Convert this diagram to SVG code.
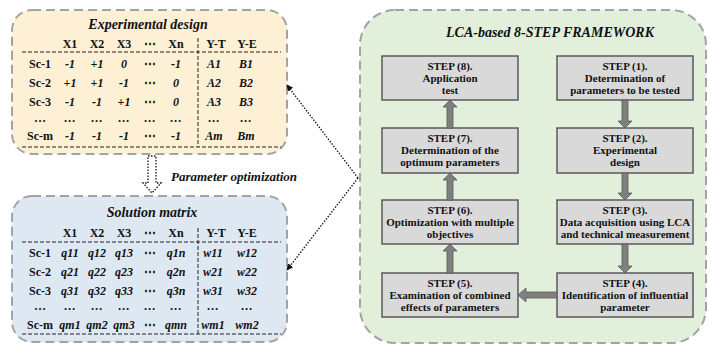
<svg xmlns="http://www.w3.org/2000/svg" width="708" height="346" viewBox="0 0 708 346">
<defs>
<style>
text{font-family:'Liberation Serif','DejaVu Serif',serif;font-weight:bold;fill:#111;}
.t{font-size:14px;font-style:italic;text-anchor:middle;}
.h{font-size:12px;text-anchor:middle;}
.v{font-size:12px;font-style:italic;text-anchor:middle;}
.s{font-size:11px;text-anchor:middle;}
.po{font-size:13px;font-style:italic;}
.panel{stroke:#a3a3a3;stroke-width:2;stroke-dasharray:9 5;}
.fine{stroke:#222;stroke-width:1;stroke-dasharray:4 2;fill:none;}
.box{fill:#d9d9d9;stroke:#595959;stroke-width:1.5;}
.blk{fill:#7f7f7f;stroke:#5a5a5a;stroke-width:0.8;}
.dot{stroke:#111;stroke-width:1.3;stroke-dasharray:1.5 1.5;fill:none;}
</style>
<marker id="ah" markerWidth="8" markerHeight="8" refX="6" refY="4" orient="auto" markerUnits="userSpaceOnUse">
<path d="M0,0.8 L7,4 L0,7.2 Z" fill="#111"/>
</marker>
</defs>
<g font-family="Liberation Serif, DejaVu Serif, serif">
<g id="experimental-design">
<rect class="panel" x="12" y="10" width="275" height="144" rx="20" fill="#fdf0d4"/>
<text class="t" x="148" y="29">Experimental design</text>
<line class="fine" x1="22" y1="52" x2="281" y2="52"/>
<line class="fine" x1="22" y1="147" x2="281" y2="147"/>
<line class="fine" x1="198" y1="38" x2="198" y2="147"/>
<g class="h">
<text x="70" y="48">X1</text><text x="97" y="48">X2</text><text x="124" y="48">X3</text><text x="150" y="48">⋯</text><text x="176" y="48">Xn</text><text x="216" y="48">Y-T</text><text x="247" y="48">Y-E</text>
<text x="40" y="68">Sc-1</text><text x="40" y="87">Sc-2</text><text x="40" y="106">Sc-3</text><text x="40" y="122">…</text><text x="40" y="140">Sc-m</text>
</g>
<g class="v">
<text x="70" y="68">-1</text><text x="97" y="68">+1</text><text x="124" y="68">0</text><text x="150" y="68" font-style="normal">⋯</text><text x="176" y="68">-1</text><text x="214" y="68">A1</text><text x="246" y="68">B1</text>
<text x="70" y="87">+1</text><text x="97" y="87">+1</text><text x="124" y="87">-1</text><text x="150" y="87" font-style="normal">⋯</text><text x="176" y="87">0</text><text x="214" y="87">A2</text><text x="246" y="87">B2</text>
<text x="70" y="106">-1</text><text x="97" y="106">-1</text><text x="124" y="106">+1</text><text x="150" y="106" font-style="normal">⋯</text><text x="176" y="106">0</text><text x="214" y="106">A3</text><text x="246" y="106">B3</text>
<text x="70" y="122">…</text><text x="97" y="122">…</text><text x="124" y="122">…</text><text x="150" y="122">…</text><text x="176" y="122">…</text><text x="214" y="122">…</text><text x="246" y="122">…</text>
<text x="70" y="140">-1</text><text x="97" y="140">-1</text><text x="124" y="140">-1</text><text x="150" y="140" font-style="normal">⋯</text><text x="176" y="140">-1</text><text x="214" y="140">Am</text><text x="246" y="140">Bm</text>
</g>
</g>

<g id="solution-matrix">
<rect class="panel" x="12" y="196" width="275" height="146" rx="20" fill="#dde8f3"/>
<text class="t" x="152" y="217">Solution matrix</text>
<line class="fine" x1="22" y1="242" x2="281" y2="242"/>
<line class="fine" x1="22" y1="334" x2="281" y2="334"/>
<line class="fine" x1="198" y1="228" x2="198" y2="334"/>
<g class="h">
<text x="70" y="237">X1</text><text x="97" y="237">X2</text><text x="124" y="237">X3</text><text x="150" y="237">⋯</text><text x="176" y="237">Xn</text><text x="216" y="237">Y-T</text><text x="247" y="237">Y-E</text>
<text x="40" y="257">Sc-1</text><text x="40" y="276">Sc-2</text><text x="40" y="295">Sc-3</text><text x="40" y="310">…</text><text x="40" y="329">Sc-m</text>
</g>
<g class="v">
<text x="70" y="257">q11</text><text x="97" y="257">q12</text><text x="124" y="257">q13</text><text x="150" y="257" font-style="normal">⋯</text><text x="176" y="257">q1n</text><text x="213" y="257">w11</text><text x="247" y="257">w12</text>
<text x="70" y="276">q21</text><text x="97" y="276">q22</text><text x="124" y="276">q23</text><text x="150" y="276" font-style="normal">⋯</text><text x="176" y="276">q2n</text><text x="213" y="276">w21</text><text x="247" y="276">w22</text>
<text x="70" y="295">q31</text><text x="97" y="295">q32</text><text x="124" y="295">q33</text><text x="150" y="295" font-style="normal">⋯</text><text x="176" y="295">q3n</text><text x="213" y="295">w31</text><text x="247" y="295">w32</text>
<text x="70" y="310">…</text><text x="97" y="310">…</text><text x="124" y="310">…</text><text x="150" y="310">…</text><text x="176" y="310">…</text><text x="213" y="310">…</text><text x="247" y="310">…</text>
<text x="70" y="329">qm1</text><text x="97" y="329">qm2</text><text x="124" y="329">qm3</text><text x="150" y="329" font-style="normal">⋯</text><text x="176" y="329">qmn</text><text x="213" y="329">wm1</text><text x="247" y="329">wm2</text>
</g>
</g>

<g id="framework">
<rect class="panel" x="360" y="10" width="346" height="333" rx="35" fill="#e2efda"/>
<text class="t" x="550" y="37">LCA-based 8-STEP FRAMEWORK</text>
</g>

<g id="step8">
<rect class="box" x="382" y="56" width="136" height="44"/>
<text class="s" x="450" y="70">STEP (8).</text><text class="s" x="450" y="82">Application</text><text class="s" x="450" y="94">test</text>
</g>
<g id="step1">
<rect class="box" x="557" y="56" width="136" height="44"/>
<text class="s" x="625" y="70">STEP (1).</text><text class="s" x="625" y="82">Determination of</text><text class="s" x="625" y="94">parameters to be tested</text>
</g>
<g id="step7">
<rect class="box" x="382" y="128" width="136" height="45"/>
<text class="s" x="450" y="142">STEP (7).</text><text class="s" x="450" y="154">Determination of the</text><text class="s" x="450" y="166">optimum parameters</text>
</g>
<g id="step2">
<rect class="box" x="557" y="128" width="136" height="45"/>
<text class="s" x="625" y="142">STEP (2).</text><text class="s" x="625" y="154">Experimental</text><text class="s" x="625" y="166">design</text>
</g>
<g id="step6">
<rect class="box" x="382" y="200" width="136" height="44"/>
<text class="s" x="450" y="214">STEP (6).</text><text class="s" x="450" y="226">Optimization with multiple</text><text class="s" x="450" y="238">objectives</text>
</g>
<g id="step3">
<rect class="box" x="557" y="200" width="136" height="44"/>
<text class="s" x="625" y="214">STEP (3).</text><text class="s" x="625" y="226">Data acquisition using LCA</text><text class="s" x="625" y="238">and technical measurement</text>
</g>
<g id="step5">
<rect class="box" x="382" y="273" width="136" height="44"/>
<text class="s" x="450" y="287">STEP (5).</text><text class="s" x="450" y="299">Examination of combined</text><text class="s" x="450" y="311">effects of parameters</text>
</g>
<g id="step4">
<rect class="box" x="557" y="273" width="136" height="44"/>
<text class="s" x="625" y="287">STEP (4).</text><text class="s" x="625" y="299">Identification of influential</text><text class="s" x="625" y="311">parameter</text>
</g>

<g id="connectors">
<path class="blk" d="M447,128 L447,107 L443,107 L450,100 L457,107 L453,107 L453,128 Z"/>
<path class="blk" d="M447,200 L447,180 L443,180 L450,173 L457,180 L453,180 L453,200 Z"/>
<path class="blk" d="M447,273 L447,251 L443,251 L450,244 L457,251 L453,251 L453,273 Z"/>
<path class="blk" d="M622,100 L622,121 L618,121 L625,128 L632,121 L628,121 L628,100 Z"/>
<path class="blk" d="M622,173 L622,193 L618,193 L625,200 L632,193 L628,193 L628,173 Z"/>
<path class="blk" d="M622,244 L622,266 L618,266 L625,273 L632,266 L628,266 L628,244 Z"/>
<path class="blk" d="M557,292 L526,292 L526,288 L518,295 L526,302 L526,298 L557,298 Z"/>
<path class="dot" d="M358,178 L287,85" marker-end="url(#ah)"/>
<path class="dot" d="M358,178 L287,270" marker-end="url(#ah)"/>
<path class="dot" d="M148,156 L156,156 L156,183 L161,183 L152,193 L143,183 L148,183 Z"/>
<text class="po" x="171" y="181">Parameter optimization</text>
</g>
</g>
</svg>
